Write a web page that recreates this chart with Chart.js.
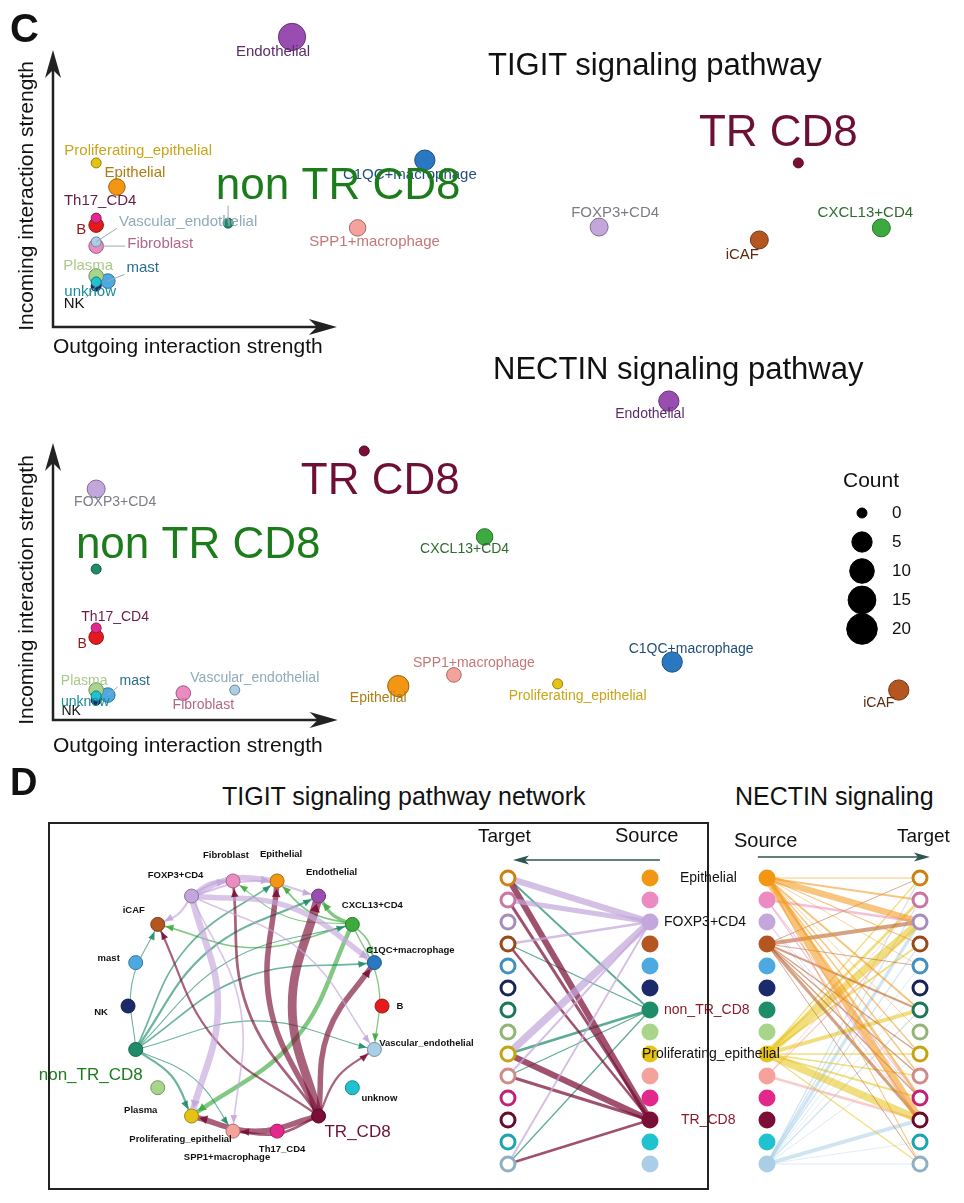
<!DOCTYPE html>
<html>
<head>
<meta charset="utf-8">
<title>TIGIT / NECTIN signaling</title>
<script src="https://cdn.jsdelivr.net/npm/chart.js@4.4.1/dist/chart.umd.min.js"></script>
<style>
  body { margin: 0; background: #fff; }
  #page { position: relative; width: 964px; height: 1203px; overflow: hidden; font-family: "Liberation Sans", Arial, sans-serif; color: #111; }
  #page canvas { position: absolute; }
  .t { position: absolute; white-space: nowrap; line-height: 1; }
  .rot { position: absolute; white-space: nowrap; line-height: 1; transform: translate(-50%, -50%) rotate(-90deg); }
  #box { position: absolute; left: 48px; top: 822px; width: 657px; height: 364px; border: 2px solid #222; }
</style>
</head>
<body>
<div id="page">
  <canvas id="tigitScatter" width="964" height="370" style="left:0;top:0"></canvas>
  <canvas id="nectinScatter" width="964" height="400" style="left:0;top:370px"></canvas>
  <canvas id="countLegend" width="120" height="160" style="left:820px;top:490px"></canvas>
  <canvas id="tigitCircle" width="460" height="355" style="left:30px;top:830px"></canvas>
  <canvas id="nectinHier" width="224" height="340" style="left:740px;top:845px"></canvas>
  <canvas id="tigitHier" width="360" height="340" style="left:470px;top:845px"></canvas>
  <div id="box"></div>

  <div class="t" style="left:10px;top:8px;font-size:40px;font-weight:bold">C</div>
  <div class="t" style="left:488px;top:49px;font-size:31px">TIGIT signaling pathway</div>
  <div class="rot" style="left:25px;top:196px;font-size:21px">Incoming interaction strength</div>
  <div class="t" style="left:53px;top:335px;font-size:21px">Outgoing interaction strength</div>
  <div class="t" style="left:493px;top:353px;font-size:31px">NECTIN signaling pathway</div>
  <div class="rot" style="left:25px;top:590px;font-size:21px">Incoming interaction strength</div>
  <div class="t" style="left:53px;top:734px;font-size:21px">Outgoing interaction strength</div>
  <div class="t" style="left:843px;top:469px;font-size:21px">Count</div>

  <div class="t" style="left:10px;top:763px;font-size:38px;font-weight:bold">D</div>
  <div class="t" style="left:222px;top:784px;font-size:25px">TIGIT signaling pathway network</div>
  <div class="t" style="left:735px;top:784px;font-size:25px">NECTIN signaling</div>
  <div class="t" style="left:478px;top:826px;font-size:19px">Target</div>
  <div class="t" style="left:615px;top:825px;font-size:20px">Source</div>
  <div class="t" style="left:734px;top:830px;font-size:20px">Source</div>
  <div class="t" style="left:897px;top:826px;font-size:19px">Target</div>
</div>

<script>
// cell groups, in the order CellChat uses
const cellTypes = ['B', 'C1QC+macrophage', 'CXCL13+CD4', 'Endothelial', 'Epithelial', 'Fibroblast', 'FOXP3+CD4',
  'iCAF', 'mast', 'NK', 'non_TR_CD8', 'Plasma', 'Proliferating_epithelial', 'SPP1+macrophage', 'Th17_CD4',
  'TR_CD8', 'unknow', 'Vascular_endothelial'];
const cellColors = ['#E41A1C', '#2B78C2', '#3DAA3F', '#9A4DB0', '#F39614', '#EC8BC2', '#C3A6DB', '#B3561F',
  '#4DA9E2', '#1B2A6B', '#1E8C68', '#A9D58B', '#E6C214', '#F6A29C', '#E3288C', '#7A0E36', '#21C2CF', '#A9CEE6'];
const labelColors = ['#8E1B1B', '#1F4E7A', '#2F6B2F', '#5B2C6B', '#B07C12', '#B36786', '#7C7C88', '#5C2A10',
  '#2A6D8C', '#111111', '#1C7C1C', '#A9C98C', '#C9A51A', '#C47878', '#6B1A45', '#6E1035', '#1A8C9A', '#8FAABB'];
const scatterNames = cellTypes.map(c => c === 'non_TR_CD8' ? 'non TR CD8' : (c === 'TR_CD8' ? 'TR CD8' : c));

// panel C: outgoing / incoming strength (arbitrary units) and link count
const tigitOutgoing = [5.2, 44.8, 99.8, 28.8, 7.7, 5.2, 65.8, 85.1, 6.6, 5.2, 21.1, 5.2, 5.2, 36.7, 5.2, 89.8, 5.2, 5.2];
const tigitIncoming = [36.4, 59.6, 35.4, 103.6, 50.0, 28.9, 35.7, 31.1, 16.4, 14.6, 37.1, 18.2, 58.6, 35.4, 38.9, 58.6, 16.1, 30.4];
const tigitCount = [1, 5, 3, 14, 2, 1, 3, 3, 1, 0, 0, 1, 0, 2, 0, 0, 0, 0];
const nectinOutgoing = [5.2, 74.6, 52.0, 74.2, 41.6, 15.7, 5.2, 101.9, 6.6, 5.2, 5.2, 5.2, 60.8, 48.3, 5.2, 37.5, 5.2, 21.9];
const nectinIncoming = [29.6, 20.7, 65.4, 113.9, 12.1, 9.6, 82.5, 10.7, 8.9, 7.1, 53.9, 10.7, 12.9, 16.1, 32.9, 96.1, 8.6, 10.7];
const nectinCount = [1, 5, 2, 5, 6, 1, 3, 5, 1, 0, 0, 1, 0, 1, 0, 0, 0, 0];
const legendCounts = [0, 5, 10, 15, 20];

// panel D: TIGIT network edges (source -> target, weight)
const tigitSrc = ['FOXP3+CD4', 'FOXP3+CD4', 'FOXP3+CD4', 'FOXP3+CD4', 'FOXP3+CD4', 'FOXP3+CD4', 'FOXP3+CD4', 'FOXP3+CD4',
  'TR_CD8', 'TR_CD8', 'TR_CD8', 'TR_CD8', 'TR_CD8', 'TR_CD8', 'TR_CD8', 'TR_CD8',
  'non_TR_CD8', 'non_TR_CD8', 'non_TR_CD8', 'non_TR_CD8', 'non_TR_CD8', 'non_TR_CD8', 'non_TR_CD8', 'non_TR_CD8',
  'CXCL13+CD4', 'CXCL13+CD4', 'CXCL13+CD4', 'CXCL13+CD4', 'CXCL13+CD4', 'CXCL13+CD4', 'CXCL13+CD4'];
const tigitTgt = ['Fibroblast', 'Epithelial', 'Endothelial', 'C1QC+macrophage', 'Proliferating_epithelial', 'SPP1+macrophage', 'iCAF', 'Vascular_endothelial',
  'Endothelial', 'Epithelial', 'Fibroblast', 'iCAF', 'C1QC+macrophage', 'Vascular_endothelial', 'Proliferating_epithelial', 'SPP1+macrophage',
  'iCAF', 'Epithelial', 'Endothelial', 'CXCL13+CD4', 'C1QC+macrophage', 'Vascular_endothelial', 'Proliferating_epithelial', 'SPP1+macrophage',
  'Proliferating_epithelial', 'Endothelial', 'Epithelial', 'iCAF', 'C1QC+macrophage', 'Vascular_endothelial', 'Fibroblast'];
const tigitW = [4, 5, 2, 5, 6, 1.5, 2, 1.5,
  8, 5, 2.5, 2, 5, 2, 5, 2.5,
  1, 1.5, 2, 1, 1.5, 1, 2, 1,
  4, 3, 1.5, 1.5, 1.5, 1.2, 1];

// panel D: NECTIN hierarchy edges
const nectinSrc = ['Epithelial', 'Epithelial', 'Epithelial', 'Epithelial', 'Epithelial', 'Epithelial', 'Epithelial', 'Epithelial', 'Epithelial', 'Epithelial', 'Epithelial', 'Epithelial',
  'Fibroblast', 'Fibroblast', 'Fibroblast',
  'iCAF', 'iCAF', 'iCAF', 'iCAF', 'iCAF', 'iCAF', 'iCAF', 'iCAF', 'iCAF',
  'Proliferating_epithelial', 'Proliferating_epithelial', 'Proliferating_epithelial', 'Proliferating_epithelial', 'Proliferating_epithelial',
  'Proliferating_epithelial', 'Proliferating_epithelial', 'Proliferating_epithelial', 'Proliferating_epithelial', 'Proliferating_epithelial',
  'SPP1+macrophage', 'SPP1+macrophage', 'SPP1+macrophage',
  'Vascular_endothelial', 'Vascular_endothelial', 'Vascular_endothelial', 'Vascular_endothelial', 'Vascular_endothelial', 'Vascular_endothelial',
  'Vascular_endothelial', 'Vascular_endothelial', 'Vascular_endothelial', 'Vascular_endothelial', 'Vascular_endothelial',
  'FOXP3+CD4', 'FOXP3+CD4'];
const nectinTgt = ['Epithelial', 'Fibroblast', 'FOXP3+CD4', 'iCAF', 'mast', 'non_TR_CD8', 'Plasma', 'Proliferating_epithelial', 'SPP1+macrophage', 'Th17_CD4', 'TR_CD8', 'Vascular_endothelial',
  'FOXP3+CD4', 'TR_CD8', 'Th17_CD4',
  'Epithelial', 'FOXP3+CD4', 'mast', 'non_TR_CD8', 'Proliferating_epithelial', 'SPP1+macrophage', 'Th17_CD4', 'TR_CD8', 'Vascular_endothelial',
  'Epithelial', 'Fibroblast', 'FOXP3+CD4', 'iCAF', 'non_TR_CD8',
  'Proliferating_epithelial', 'SPP1+macrophage', 'Th17_CD4', 'TR_CD8', 'Vascular_endothelial',
  'FOXP3+CD4', 'TR_CD8', 'Fibroblast',
  'Epithelial', 'Fibroblast', 'FOXP3+CD4', 'iCAF', 'mast', 'NK',
  'non_TR_CD8', 'Proliferating_epithelial', 'TR_CD8', 'unknow', 'Vascular_endothelial',
  'Th17_CD4', 'TR_CD8'];
const nectinW = [0.8, 1.5, 5, 1, 0.6, 1.5, 0.6, 1, 1, 2, 6, 0.8,
  2, 1, 0.8,
  0.7, 3, 0.7, 1.5, 1, 1, 1, 2.5, 0.7,
  1, 2, 6, 1.5, 3,
  1, 1, 1.5, 6, 1,
  1, 2, 0.6,
  1, 1, 2.5, 1, 0.6, 0.5,
  1, 0.6, 3, 0.5, 0.6,
  0.6, 0.6];

// label placement (pixel offsets from each point), kept apart from the values
const tigitLabelOffset = [[-15, 5], [-15, 15], [-16, -15], [-19, 15], [18, -14], [64, -2], [16, -14], [-17, 15], [35, -13],
  [-22, 18], [110, -36], [-8, -10], [42, -12], [17, 14], [4, -17], [-20, -29], [-6, 10], [92, -20]];
const tigitLeaders = [5, 8, 9, 10, 17];
const nectinLabelOffset = [[-14, 7], [19, -13], [-20, 12], [-19, 13], [-20, 12], [20, 12], [19, 13], [-20, 13], [27, -14],
  [-25, 11], [102, -23], [-12, -9], [20, 12], [20, -12], [19, -11], [16, 31], [-11, 6], [20, -12]];
const nectinLeaders = [8];
const circleLabelOffset = [[18, 0], [36, -12], [20, -19], [13, -24], [4, -27], [-7, -26], [-16, -21], [-24, -14], [-27, -4],
  [-27, 6], [-45, 26], [-17, 23], [-11, 23], [-6, 26], [5, 18], [39, 16], [27, 11], [52, -6]];
const hierLabelNames = ['Epithelial', 'FOXP3+CD4', 'non_TR_CD8', 'Proliferating_epithelial', 'TR_CD8'];
const hierLabelDx = [30, 14, 14, -8, 31];
const hierLabelColors = ['#111', '#111', '#8B1A2B', '#111', '#8B1A2B'];

const FONT = '"Liberation Sans", Arial, sans-serif';
const BIG = [cellTypes.indexOf('non_TR_CD8'), cellTypes.indexOf('TR_CD8')];
const hierRows = cellTypes.slice(4);
const sizeOf = c => 5 + 2.3 * Math.sqrt(c);

function rgbOf(hex) {
  const n = parseInt(hex.slice(1), 16);
  return [(n >> 16) & 255, (n >> 8) & 255, n & 255];
}
function shade(hex, f) {
  const [r, g, b] = rgbOf(hex);
  return `rgb(${Math.round(r * f)},${Math.round(g * f)},${Math.round(b * f)})`;
}
function fade(hex, a) {
  const [r, g, b] = rgbOf(hex);
  return `rgba(${r},${g},${b},${a})`;
}
function colorOf(name) { return cellColors[cellTypes.indexOf(name)]; }

function baseOptions(xr, yr, reverseY) {
  return {
    responsive: false,
    animation: false,
    events: [],
    layout: { padding: 0, autoPadding: false },
    plugins: { legend: { display: false }, tooltip: { enabled: false } },
    scales: {
      x: { type: 'linear', display: false, min: xr[0], max: xr[1] },
      y: { type: 'linear', display: false, min: yr[0], max: yr[1], reverse: !!reverseY }
    }
  };
}

// ---------- panel C scatter plots ----------
function scatterChart(id, outV, inV, countV, offs, fontPx, leaders, xr, yr, arrowEnd) {
  const decor = {
    id: 'decor',
    beforeDatasetsDraw(chart) {
      const { x, y } = chart.scales, ctx = chart.ctx;
      const x0 = x.getPixelForValue(0), y0 = y.getPixelForValue(0);
      const x1 = x.getPixelForValue(arrowEnd[0]), y1 = y.getPixelForValue(arrowEnd[1]);
      ctx.save();
      ctx.strokeStyle = '#222';
      ctx.fillStyle = '#222';
      ctx.lineWidth = 2.5;
      ctx.beginPath();
      ctx.moveTo(x0, y1 + 18);
      ctx.lineTo(x0, y0);
      ctx.lineTo(x1 - 18, y0);
      ctx.stroke();
      ctx.beginPath();
      ctx.moveTo(x0, y1); ctx.lineTo(x0 - 8, y1 + 28); ctx.lineTo(x0, y1 + 20); ctx.lineTo(x0 + 8, y1 + 28);
      ctx.closePath(); ctx.fill();
      ctx.beginPath();
      ctx.moveTo(x1, y0); ctx.lineTo(x1 - 28, y0 - 8); ctx.lineTo(x1 - 20, y0); ctx.lineTo(x1 - 28, y0 + 8);
      ctx.closePath(); ctx.fill();
      ctx.restore();
    },
    afterDatasetsDraw(chart) {
      const ctx = chart.ctx, meta = chart.getDatasetMeta(0);
      ctx.save();
      ctx.textAlign = 'center';
      ctx.textBaseline = 'middle';
      meta.data.forEach((p, i) => {
        const big = BIG.includes(i);
        const size = big ? 44 : fontPx;
        ctx.font = `${size}px ${FONT}`;
        const cx = p.x + offs[i][0], cy = p.y + offs[i][1];
        if (leaders.includes(i)) {
          const w = ctx.measureText(scatterNames[i]).width / 2 + 2, h = size * 0.42;
          const nx = Math.min(Math.max(p.x, cx - w), cx + w);
          const ny = Math.min(Math.max(p.y, cy - h), cy + h);
          ctx.strokeStyle = '#9aa';
          ctx.lineWidth = 1;
          ctx.beginPath(); ctx.moveTo(p.x, p.y); ctx.lineTo(nx, ny); ctx.stroke();
        }
        ctx.fillStyle = labelColors[i];
        ctx.fillText(scatterNames[i], cx, cy);
      });
      ctx.restore();
    }
  };
  return new Chart(document.getElementById(id), {
    type: 'scatter',
    data: {
      datasets: [{
        data: cellTypes.map((c, i) => ({ x: outV[i], y: inV[i] })),
        pointRadius: countV.map(sizeOf),
        pointBackgroundColor: cellColors,
        pointBorderColor: cellColors.map(c => shade(c, 0.65)),
        pointBorderWidth: 1,
        clip: false
      }]
    },
    options: baseOptions(xr, yr),
    plugins: [decor]
  });
}

scatterChart('tigitScatter', tigitOutgoing, tigitIncoming, tigitCount, tigitLabelOffset, 15, tigitLeaders,
  [-6.386, 109.76], [-15.357, 116.786], [34.2, 98.9]);
scatterChart('nectinScatter', nectinOutgoing, nectinIncoming, nectinCount, nectinLabelOffset, 14, nectinLeaders,
  [-6.386, 109.76], [-17.857, 125], [34.3, 98.9]);

// size legend
new Chart(document.getElementById('countLegend'), {
  type: 'scatter',
  data: {
    datasets: [{
      data: legendCounts.map((c, i) => ({ x: 0, y: i })),
      pointRadius: legendCounts.map(sizeOf),
      pointBackgroundColor: '#000',
      pointBorderColor: '#000',
      clip: false
    }]
  },
  options: baseOptions([-42, 78], [-0.793, 4.724], true),
  plugins: [{
    id: 'legendText',
    afterDatasetsDraw(chart) {
      const ctx = chart.ctx, meta = chart.getDatasetMeta(0);
      ctx.save();
      ctx.font = `17px ${FONT}`;
      ctx.fillStyle = '#111';
      ctx.textBaseline = 'middle';
      meta.data.forEach((p, i) => ctx.fillText(String(legendCounts[i]), p.x + 30, p.y));
      ctx.restore();
    }
  }]
});

// ---------- panel D: circle network ----------
const circlePos = cellTypes.map((c, k) => {
  const a = 2 * Math.PI * k / cellTypes.length;
  return { x: Math.cos(a), y: Math.sin(a) };
});
const NODE_R = 7;

const circleEdges = tigitSrc.map((s, i) => {
  const a = circlePos[cellTypes.indexOf(s)], b = circlePos[cellTypes.indexOf(tigitTgt[i])];
  const dx = b.x - a.x, dy = b.y - a.y;
  const bend = { x: (a.x + b.x) / 2 - dy * 0.12, y: (a.y + b.y) / 2 + dx * 0.12 };
  return {
    data: [a, bend, b],
    showLine: true,
    tension: 0.4,
    pointRadius: 0,
    borderWidth: tigitW[i] * 1.1,
    borderColor: fade(colorOf(s), 0.65),
    arrowColor: fade(colorOf(s), 0.9),
    order: 1,
    clip: false
  };
});

new Chart(document.getElementById('tigitCircle'), {
  type: 'scatter',
  data: {
    datasets: [{
      data: circlePos,
      pointRadius: NODE_R,
      pointBackgroundColor: cellColors,
      pointBorderColor: cellColors.map(c => shade(c, 0.7)),
      pointBorderWidth: 1,
      order: 0,
      clip: false
    }].concat(circleEdges)
  },
  options: baseOptions([-1.772, 1.850], [-1.409, 1.386]),
  plugins: [{
    id: 'circleDecor',
    afterDatasetsDraw(chart) {
      const ctx = chart.ctx;
      ctx.save();
      chart.data.datasets.forEach((ds, di) => {
        if (!ds.arrowColor) return;
        const pts = chart.getDatasetMeta(di).data;
        const end = pts[pts.length - 1], prev = pts[pts.length - 2];
        let ux = end.x - prev.x, uy = end.y - prev.y;
        const len = Math.hypot(ux, uy) || 1;
        ux /= len; uy /= len;
        const tx = end.x - ux * (NODE_R + 1), ty = end.y - uy * (NODE_R + 1);
        const hw = 3 + ds.borderWidth * 0.25, hl = 8;
        ctx.fillStyle = ds.arrowColor;
        ctx.beginPath();
        ctx.moveTo(tx, ty);
        ctx.lineTo(tx - ux * hl - uy * hw, ty - uy * hl + ux * hw);
        ctx.lineTo(tx - ux * hl + uy * hw, ty - uy * hl - ux * hw);
        ctx.closePath();
        ctx.fill();
      });
      const meta = chart.getDatasetMeta(0);
      ctx.textAlign = 'center';
      ctx.textBaseline = 'middle';
      meta.data.forEach((p, i) => {
        const big = BIG.includes(i);
        ctx.font = big ? `17px ${FONT}` : `bold 9.5px ${FONT}`;
        ctx.fillStyle = big ? labelColors[i] : '#111';
        ctx.fillText(cellTypes[i], p.x + circleLabelOffset[i][0], p.y + circleLabelOffset[i][1]);
      });
      ctx.restore();
    }
  }]
});

// ---------- panel D: hierarchy plots ----------
function hierChart(id, src, tgt, w, srcX, tgtX, xr, arrow, widthScale, edgeAlpha, labels) {
  const edges = [];
  src.forEach((s, i) => {
    const rs = hierRows.indexOf(s), rt = hierRows.indexOf(tgt[i]);
    if (rs < 0 || rt < 0) return;
    edges.push({
      data: [{ x: srcX, y: rs }, { x: tgtX, y: rt }],
      showLine: true,
      pointRadius: 0,
      borderWidth: w[i] * widthScale,
      borderColor: fade(colorOf(s), edgeAlpha),
      order: 2,
      clip: false
    });
  });
  const rowColors = cellColors.slice(4);
  const nodes = [
    {
      data: hierRows.map((c, r) => ({ x: srcX, y: r })),
      pointRadius: 8.5,
      pointBackgroundColor: rowColors,
      pointBorderColor: rowColors,
      pointBorderWidth: 0,
      order: 0,
      clip: false
    },
    {
      data: hierRows.map((c, r) => ({ x: tgtX, y: r })),
      pointRadius: 7,
      pointBackgroundColor: '#fff',
      pointBorderColor: rowColors.map(c => shade(c, 0.85)),
      pointBorderWidth: 3,
      order: 0,
      clip: false
    }
  ];
  return new Chart(document.getElementById(id), {
    type: 'scatter',
    data: { datasets: nodes.concat(edges) },
    options: baseOptions(xr, [-1.5, 13.955], true),
    plugins: [{
      id: 'hierDecor',
      afterDatasetsDraw(chart) {
        const { x, y } = chart.scales, ctx = chart.ctx;
        const ax0 = x.getPixelForValue(arrow[0]), ax1 = x.getPixelForValue(arrow[1]), ay = y.getPixelForValue(arrow[2]);
        const dir = Math.sign(ax1 - ax0);
        ctx.save();
        ctx.strokeStyle = '#2F5550';
        ctx.fillStyle = '#2F5550';
        ctx.lineWidth = 1.5;
        ctx.beginPath(); ctx.moveTo(ax0, ay); ctx.lineTo(ax1 - dir * 10, ay); ctx.stroke();
        ctx.beginPath();
        ctx.moveTo(ax1, ay); ctx.lineTo(ax1 - dir * 16, ay - 4.5); ctx.lineTo(ax1 - dir * 12, ay); ctx.lineTo(ax1 - dir * 16, ay + 4.5);
        ctx.closePath(); ctx.fill();
        if (labels) {
          const meta = chart.getDatasetMeta(0);
          ctx.font = `14px ${FONT}`;
          ctx.textBaseline = 'middle';
          ctx.textAlign = 'left';
          labels.names.forEach((n, k) => {
            const p = meta.data[hierRows.indexOf(n)];
            ctx.fillStyle = labels.colors[k];
            ctx.fillText(n, p.x + labels.dx[k], p.y);
          });
        }
        ctx.restore();
      }
    }]
  });
}

hierChart('tigitHier', tigitSrc, tigitTgt, tigitW, 1, 0, [-0.2676, 2.2676], [1.07, 0.035, -0.82], 1.25, 0.72,
  { names: hierLabelNames, dx: hierLabelDx, colors: hierLabelColors });
hierChart('nectinHier', nectinSrc, nectinTgt, nectinW, 0, 1, [-0.1765, 1.2876], [-0.06, 1.065, -0.95], 1.3, 0.55, null);
</script>
</body>
</html>
